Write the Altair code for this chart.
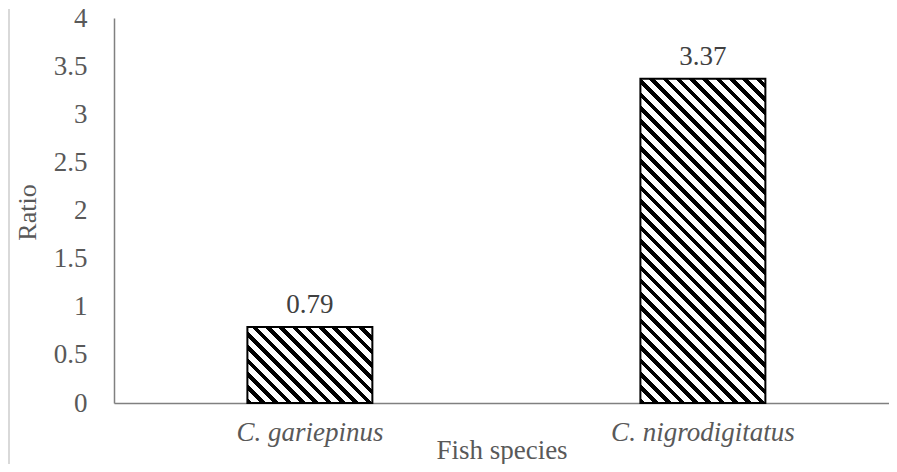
import math
import altair as alt
import pandas as pd

species = ["C. gariepinus", "C. nigrodigitatus"]
ratios = [0.79, 3.37]
y_ticks = [0, 0.5, 1, 1.5, 2, 2.5, 3, 3.5, 4]

W, H = 775, 385
Y_MAX = 4
P_INNER = 0.682
P_OUTER = 0.327
ALIGN = 0.519

df = pd.DataFrame({"species": species, "ratio": ratios})

FONT = "Liberation Serif"
GRAY = "#595959"


def hatch(value):
    """Diagonal hatch as a hard-stop linear gradient, stripes at 45 degrees."""
    step = W / (len(species) - P_INNER + 2 * P_OUTER)
    w = step * (1 - P_INNER)
    h = value / Y_MAX * H
    r = h / w
    du = (1 + r) / (1 + r * r)
    dv = -r * (1 + r) / (1 + r * r)
    length = (w + h) / math.sqrt(2)
    period = 9.4
    n = length / period
    frac = 0.42
    stops = []
    k = 0
    while k / n < 1:
        a = k / n
        b = min((k + frac) / n, 1)
        c = min((k + 1) / n, 1)
        stops += [
            alt.GradientStop(offset=a, color="black"),
            alt.GradientStop(offset=b, color="black"),
        ]
        if b < 1:
            stops += [
                alt.GradientStop(offset=b, color="white"),
                alt.GradientStop(offset=c, color="white"),
            ]
        k += 1
    return alt.Gradient(gradient="linear", stops=stops, x1=0, y1=1, x2=du, y2=1 + dv)


x_enc = alt.X(
    "species:N",
    sort=species,
    scale=alt.Scale(paddingInner=P_INNER, paddingOuter=P_OUTER, align=ALIGN),
    axis=alt.Axis(
        title="Fish species",
        labelFont=FONT,
        labelFontSize=27,
        labelFontStyle="italic",
        labelColor=GRAY,
        labelAngle=0,
        labelBaseline="alphabetic",
        labelPadding=37,
        labelLimit=0,
        ticks=False,
        tickSize=0,
        domainColor="#808080",
        domainWidth=1.5,
        titleFont=FONT,
        titleFontSize=27,
        titleFontWeight="normal",
        titleColor=GRAY,
        titleBaseline="alphabetic",
        titleY=55,
    ),
)
y_enc = alt.Y(
    "ratio:Q",
    scale=alt.Scale(domain=[0, Y_MAX], nice=False),
    axis=alt.Axis(
        title="Ratio",
        values=y_ticks,
        format="~g",
        grid=False,
        ticks=False,
        tickSize=0,
        labelFont=FONT,
        labelFontSize=27,
        labelColor=GRAY,
        labelPadding=27,
        domainColor="#808080",
        domainWidth=1.5,
        titleFont=FONT,
        titleFontSize=26,
        titleFontWeight="normal",
        titleColor=GRAY,
        titleAngle=-90,
        titleBaseline="middle",
        titleX=-87,
        titleY=194,
    ),
)

layers = []
for s, v in zip(species, ratios):
    layers.append(
        alt.Chart(df)
        .transform_filter(alt.datum.species == s)
        .mark_bar(fill=hatch(v), stroke="black", strokeWidth=2)
        .encode(x=x_enc, y=y_enc)
    )

labels = (
    alt.Chart(df)
    .mark_text(font=FONT, fontSize=27, color="#404040", baseline="alphabetic", dy=-14)
    .encode(x=alt.X("species:N", sort=species), y="ratio:Q", text=alt.Text("ratio:Q", format=".2f"))
)

frame = alt.Data(values=[{}])
border_left = (
    alt.Chart(frame)
    .mark_rule(color="#d9d9d9", strokeWidth=2)
    .encode(x=alt.value(-105), y=alt.value(-9), y2=alt.value(470))
)

chart = (
    alt.layer(border_left, *layers, labels)
    .properties(
        width=W,
        height=H,
        background="white",
        autosize=alt.AutoSizeParams(type="none"),
        padding={"left": 106, "top": 10, "right": 0, "bottom": 61},
    )
    .configure_view(stroke="transparent", strokeWidth=0)
)

chart.save("out.html", embed_options={"renderer": "svg", "actions": False})
